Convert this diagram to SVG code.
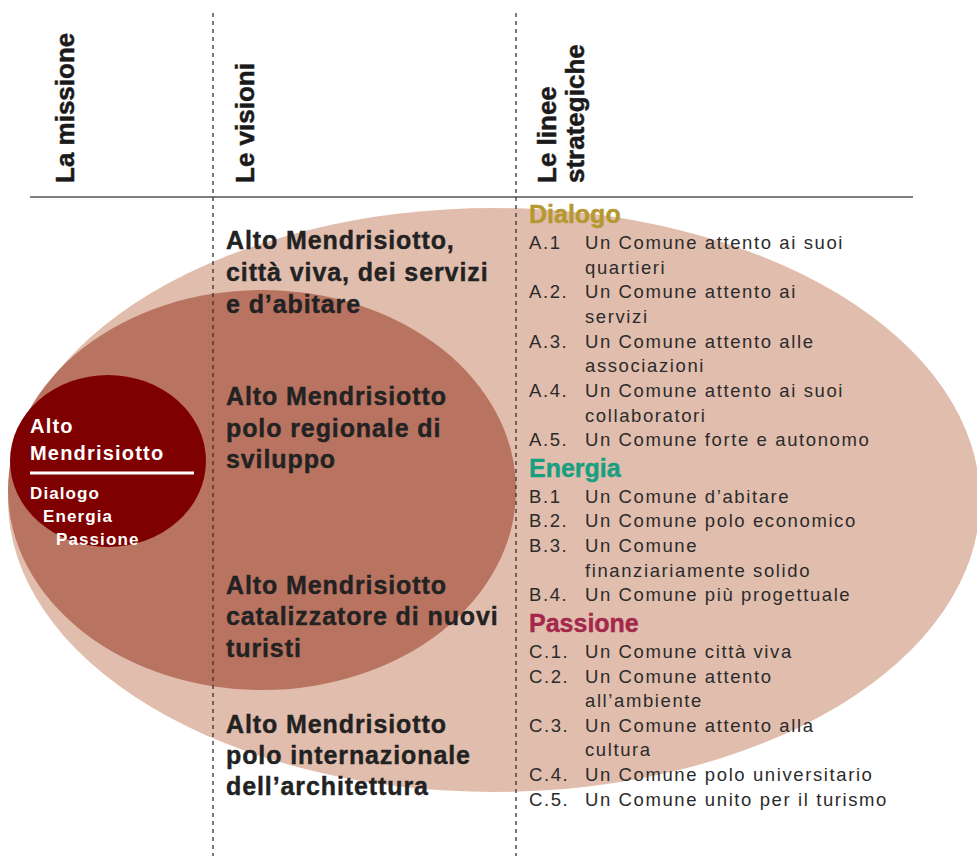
<svg xmlns="http://www.w3.org/2000/svg" width="977" height="856" viewBox="0 0 977 856">
<style>
.hdr{font-family:"Liberation Sans",Arial,sans-serif;font-weight:bold;font-size:26px;fill:#1a1a1a;stroke:#1a1a1a;stroke-width:0.5px}
.vis{font-family:"Liberation Sans",Arial,sans-serif;font-weight:bold;font-size:25px;fill:#222;stroke:#222;stroke-width:0.4px;letter-spacing:0.9px}
.it{font-family:"Liberation Sans",Arial,sans-serif;font-size:18.5px;fill:#2b2b2b;letter-spacing:1.6px}
.cat{font-family:"Liberation Sans",Arial,sans-serif;font-weight:bold;font-size:25px;stroke-width:0.4px}
.mis{font-family:"Liberation Sans",Arial,sans-serif;font-weight:bold;fill:#fff}
.dash{stroke:#333;stroke-width:1.3;stroke-dasharray:4 4;fill:none}
</style>
<rect width="977" height="856" fill="#fff"/>
<g id="shapes">
<ellipse id="outer" cx="494" cy="500" rx="486" ry="292" fill="#e1bdad"/>
<ellipse id="inner" cx="262" cy="490" rx="254" ry="200" fill="#b97461"/>
</g>
<g id="connectors">
<line x1="30" y1="197" x2="913" y2="197" stroke="#555" stroke-width="1.6"/>
<line class="dash" x1="213" y1="13" x2="213" y2="856"/>
<line class="dash" x1="516" y1="13" x2="516" y2="856"/>
</g>
<g id="headers">
<text class="hdr" transform="translate(74,183) rotate(-90)">La missione</text>
<text class="hdr" transform="translate(254,183) rotate(-90)">Le visioni</text>
<text class="hdr" transform="translate(556,183) rotate(-90)">Le linee</text>
<text class="hdr" transform="translate(584,183) rotate(-90)">strategiche</text>
</g>
<g id="missione">
<ellipse cx="108" cy="461" rx="98" ry="86" fill="#7f0000"/>
<text class="mis" x="30" y="433" font-size="20" letter-spacing="1.2">Alto</text>
<text class="mis" x="30" y="460" font-size="20" letter-spacing="1.2">Mendrisiotto</text>
<line x1="30" y1="473" x2="194" y2="473" stroke="#fff" stroke-width="3"/>
<text class="mis" x="30" y="499" font-size="17" letter-spacing="1.1">Dialogo</text>
<text class="mis" x="43" y="522" font-size="17" letter-spacing="1.1">Energia</text>
<text class="mis" x="56" y="545" font-size="17" letter-spacing="1.1">Passione</text>
</g>
<g id="vision1">
<text class="vis" x="226" y="249">Alto Mendrisiotto,</text>
<text class="vis" x="226" y="281">città viva, dei servizi</text>
<text class="vis" x="226" y="313">e d’abitare</text>
</g>
<g id="vision2">
<text class="vis" x="226" y="405">Alto Mendrisiotto</text>
<text class="vis" x="226" y="437">polo regionale di</text>
<text class="vis" x="226" y="468">sviluppo</text>
</g>
<g id="vision3">
<text class="vis" x="226" y="594">Alto Mendrisiotto</text>
<text class="vis" x="226" y="625">catalizzatore di nuovi</text>
<text class="vis" x="226" y="657">turisti</text>
</g>
<g id="vision4">
<text class="vis" x="226" y="733">Alto Mendrisiotto</text>
<text class="vis" x="226" y="764">polo internazionale</text>
<text class="vis" x="226" y="795">dell’architettura</text>
</g>
<g id="dialogo">
<text class="cat" x="529" y="223" fill="#b5982f" stroke="#b5982f">Dialogo</text>
<text class="it" x="529" y="249">A.1</text><text class="it" x="585" y="249">Un Comune attento ai suoi</text>
<text class="it" x="585" y="274">quartieri</text>
<text class="it" x="529" y="298">A.2.</text><text class="it" x="585" y="298">Un Comune attento ai</text>
<text class="it" x="585" y="323">servizi</text>
<text class="it" x="529" y="348">A.3.</text><text class="it" x="585" y="348">Un Comune attento alle</text>
<text class="it" x="585" y="372">associazioni</text>
<text class="it" x="529" y="397">A.4.</text><text class="it" x="585" y="397">Un Comune attento ai suoi</text>
<text class="it" x="585" y="422">collaboratori</text>
<text class="it" x="529" y="446">A.5.</text><text class="it" x="585" y="446">Un Comune forte e autonomo</text>
</g>
<g id="energia">
<text class="cat" x="529" y="477" fill="#1a9e80" stroke="#1a9e80">Energia</text>
<text class="it" x="529" y="503">B.1</text><text class="it" x="585" y="503">Un Comune d’abitare</text>
<text class="it" x="529" y="527">B.2.</text><text class="it" x="585" y="527">Un Comune polo economico</text>
<text class="it" x="529" y="552">B.3.</text><text class="it" x="585" y="552">Un Comune</text>
<text class="it" x="585" y="577">finanziariamente solido</text>
<text class="it" x="529" y="601">B.4.</text><text class="it" x="585" y="601">Un Comune più progettuale</text>
</g>
<g id="passione">
<text class="cat" x="529" y="632" fill="#a3284b" stroke="#a3284b">Passione</text>
<text class="it" x="529" y="658">C.1.</text><text class="it" x="585" y="658">Un Comune città viva</text>
<text class="it" x="529" y="683">C.2.</text><text class="it" x="585" y="683">Un Comune attento</text>
<text class="it" x="585" y="707">all’ambiente</text>
<text class="it" x="529" y="732">C.3.</text><text class="it" x="585" y="732">Un Comune attento alla</text>
<text class="it" x="585" y="756">cultura</text>
<text class="it" x="529" y="781">C.4.</text><text class="it" x="585" y="781">Un Comune polo universitario</text>
<text class="it" x="529" y="806">C.5.</text><text class="it" x="585" y="806">Un Comune unito per il turismo</text>
</g>
</svg>
